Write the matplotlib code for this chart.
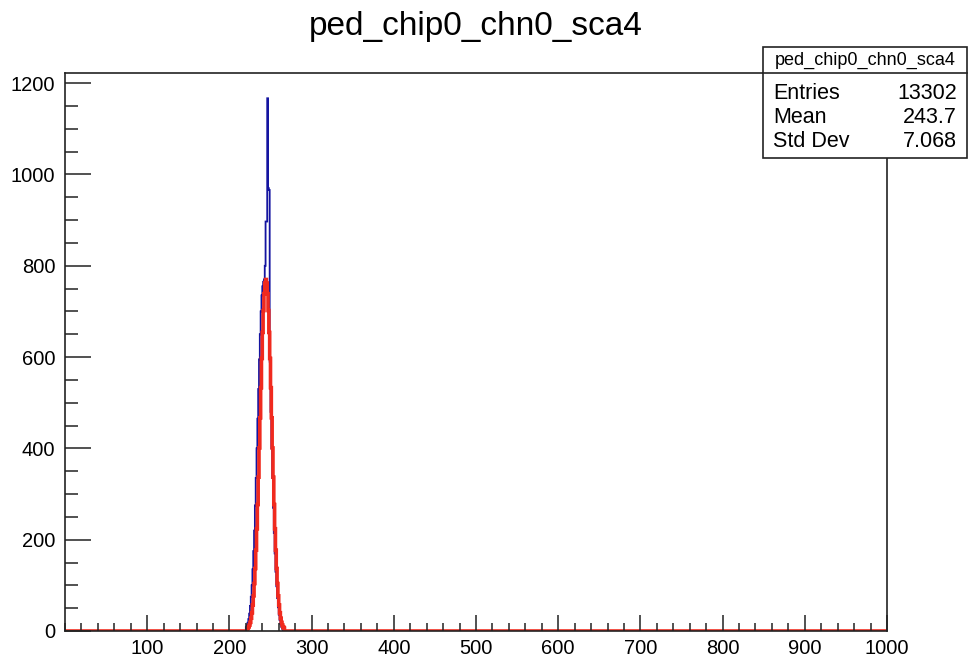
import numpy as np
import matplotlib
matplotlib.use("Agg")
import matplotlib.pyplot as plt
from matplotlib.patches import Rectangle
from matplotlib.lines import Line2D
from matplotlib.ticker import MultipleLocator

plt.rcParams['font.family'] = ['Liberation Sans', 'DejaVu Sans']

title = "ped_chip0_chn0_sca4"

# histogram: 1000 bins of width 1 on [0, 1000]
n_bins = 1000
x_min, x_max = 0, 1000

# data histogram (blue), bins starting at 220
blue_start = 220
blue_counts = [8, 12, 18, 26, 38, 55, 75, 100, 135, 175,
               220, 275, 335, 400, 465, 530, 595, 650, 700, 735,
               755, 765, 770, 800, 897, 897, 1167, 970, 966, 590,
               480, 400, 335, 270, 215, 170, 130, 98, 72, 52,
               36, 24, 15, 9, 5, 2, 1]

# fit (red), bins starting at 222
red_start = 222
red_counts = [6, 9, 13, 19, 28, 40, 57, 77, 104, 137, 177, 224, 277, 337,
              401, 467, 533, 597, 654, 702, 739, 762, 770, 762, 739, 702,
              654, 597, 533, 467, 401, 337, 277, 224, 177, 137, 104, 77,
              57, 40, 28, 19, 13, 9, 6]

stats_labels = ["Entries", "Mean", "Std Dev"]
stats_values = ["13302", "243.7", "7.068"]

edges = np.linspace(x_min, x_max, n_bins + 1)
blue = np.zeros(n_bins)
blue[blue_start:blue_start + len(blue_counts)] = blue_counts
red = np.zeros(n_bins)
red[red_start:red_start + len(red_counts)] = red_counts

W, H = 971, 658
fig = plt.figure(figsize=(W / 100, H / 100), dpi=100)
ax = fig.add_axes([65 / W, 27 / H, (887 - 65) / W, (631 - 72.7) / H])

ax.stairs(blue, edges, color='#1414a0', linewidth=1.3, baseline=None)
ax.stairs(red, edges, color='#f02a1e', linewidth=2.6, baseline=None)

ax.set_xlim(x_min, x_max)
ax.set_ylim(0, 1223)

ax.xaxis.set_major_locator(MultipleLocator(100))
ax.xaxis.set_minor_locator(MultipleLocator(20))
ax.yaxis.set_major_locator(MultipleLocator(200))
ax.yaxis.set_minor_locator(MultipleLocator(50))
ax.set_xticks(np.arange(100, 1001, 100))
ax.set_xticklabels([str(v) for v in range(100, 1001, 100)])

ax.tick_params(axis='both', which='both', direction='in', top=False, right=False,
               labelsize=14.5, color='#222222', width=1.1)
ax.tick_params(axis='y', which='major', length=18.5, pad=7)
ax.tick_params(axis='y', which='minor', length=9.3)
ax.tick_params(axis='x', which='major', length=11.5, pad=6)
ax.tick_params(axis='x', which='minor', length=5.8)
for s in ax.spines.values():
    s.set_linewidth(1.2)
    s.set_color('#222222')

fig.text(476 / W, 1 - 35 / H, title, ha='center', va='baseline', fontsize=24)

# stats box
bx0, bx1 = 763 / W, 967 / W
by_top, by_bot, by_div = 1 - 47 / H, 1 - 158 / H, 1 - 73.3 / H
box = Rectangle((bx0, by_bot), bx1 - bx0, by_top - by_bot, transform=fig.transFigure,
                facecolor='white', edgecolor='#222222', linewidth=1.2, zorder=10)
fig.add_artist(box)
fig.add_artist(Line2D([bx0, bx1], [by_div, by_div], transform=fig.transFigure,
                      color='#222222', linewidth=1.2, zorder=11))
fig.text((bx0 + bx1) / 2, (by_top + by_div) / 2, title, ha='center', va='center',
         fontsize=13, zorder=12)
rows_y = [93.3, 117.3, 141.7]
for lab, val, yy in zip(stats_labels, stats_values, rows_y):
    fig.text(773 / W, 1 - yy / H, lab, ha='left', va='center', fontsize=15.5, zorder=12)
    fig.text(957 / W, 1 - yy / H, val, ha='right', va='center', fontsize=15.5, zorder=12)

fig.savefig("out.png", dpi=100)
